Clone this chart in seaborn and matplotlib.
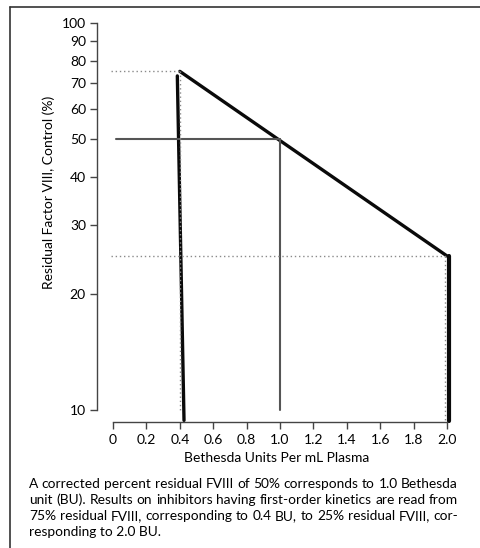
import matplotlib
matplotlib.use("Agg")
import matplotlib.pyplot as plt
from matplotlib.lines import Line2D
import seaborn as sns

# ---- data ----
x_ticks = [0, 0.2, 0.4, 0.6, 0.8, 1.0, 1.2, 1.4, 1.6, 1.8, 2.0]
x_tick_labels = ["0", "0.2", "0.4", "0.6", "0.8", "1.0", "1.2", "1.4", "1.6", "1.8", "2.0"]
y_ticks = [10, 20, 30, 40, 50, 60, 70, 80, 90, 100]
y_tick_labels = [str(v) for v in y_ticks]

diag_x = [0.4, 2.0]
diag_y = [75, 25]
steep_x = [0.385, 0.425]
steep_y = [73, 9.4]
right_x = [2.01, 2.01]
right_y = [25, 9.35]
ref50_h_x = [0.02, 1.0]
ref50_h_y = [50, 50]
ref50_v_x = [1.0, 1.0]
ref50_v_y = [50, 10]
dot75_h_x = [-0.01, 0.4]
dot75_h_y = [75, 75]
dot04_v_x = [0.4, 0.4]
dot04_v_y = [75, 10]
dot25_h_x = [-0.01, 2.0]
dot25_h_y = [25, 25]
dot20_v_x = [1.99, 1.99]
dot20_v_y = [25, 9.35]

xlabel = "Bethesda Units Per mL Plasma"
ylabel = "Residual Factor VIII, Control (%)"
caption_lines = [
    "A corrected percent residual FVIII of 50% corresponds to 1.0 Bethesda",
    "unit (BU). Results on inhibitors having first-order kinetics are read from",
    "75% residual FVIII, corresponding to 0.4 BU, to 25% residual FVIII, cor-",
    "responding to 2.0 BU.",
]

# ---- style ----
sns.set_style("white")
plt.rcParams["font.family"] = ["Lato", "DejaVu Sans"]
TXT = "#000000"

W, H = 480, 548
fig = plt.figure(figsize=(W / 100, H / 100), dpi=100)

def px(x0, y0, x1, y1):
    return [x0 / W, 1 - y1 / H, (x1 - x0) / W, (y1 - y0) / H]

ax = fig.add_axes(px(97, 23, 455.4, 422))
ax.set_yscale("log")
ax.set_xlim(-0.096, 2.05)
ax.set_ylim(10 ** (1 - 12 / 387), 100)

thick = "#0a0a0a"
gray = "#555555"
dotc = "#8a8a8a"

sns.lineplot(x=diag_x, y=diag_y, ax=ax, color=thick, lw=2.4, estimator=None, sort=False)
sns.lineplot(x=steep_x, y=steep_y, ax=ax, color=thick, lw=2.4, estimator=None, sort=False)
sns.lineplot(x=right_x, y=right_y, ax=ax, color=thick, lw=3.0, estimator=None, sort=False)
sns.lineplot(x=ref50_h_x, y=ref50_h_y, ax=ax, color=gray, lw=1.5, estimator=None, sort=False)
sns.lineplot(x=ref50_v_x, y=ref50_v_y, ax=ax, color=gray, lw=1.5, estimator=None, sort=False)
for xs, ys in [(dot75_h_x, dot75_h_y), (dot04_v_x, dot04_v_y),
               (dot25_h_x, dot25_h_y), (dot20_v_x, dot20_v_y)]:
    sns.lineplot(x=xs, y=ys, ax=ax, color=dotc, lw=1.0, linestyle=(0, (1, 2)),
                 estimator=None, sort=False)
for ln in ax.lines:
    ln.set_clip_on(False)

ax.set_yticks(y_ticks)
ax.set_yticklabels(y_tick_labels)
ax.yaxis.set_minor_locator(matplotlib.ticker.NullLocator())
ax.set_xticks(x_ticks)
ax.set_xticklabels(x_tick_labels)

for s in ["top", "right"]:
    ax.spines[s].set_visible(False)
spc = "#444444"
ax.spines["left"].set_bounds(10, 100)
ax.spines["bottom"].set_bounds(0, 2.0)
for s in ["left", "bottom"]:
    ax.spines[s].set_color(spc)
    ax.spines[s].set_linewidth(1.0)
ax.tick_params(axis="both", which="major", direction="out", length=5, width=1.0,
               color=spc, labelsize=10, labelcolor=TXT, pad=3)
ax.tick_params(axis="y", left=True)
ax.tick_params(axis="x", bottom=True, pad=4)

ax.set_xlabel(xlabel, fontsize=10, color=TXT, labelpad=4)
ax.set_ylabel(ylabel, fontsize=10, color=TXT)
ax.yaxis.set_label_coords(-0.118, 0.576)

# frame lines (left and top border)
fig.add_artist(Line2D([10 / W, 10 / W], [0, 1 - 7 / H], color="#333333", lw=1.2))
fig.add_artist(Line2D([10 / W, 1], [1 - 7 / H, 1 - 7 / H], color="#333333", lw=1.2))

# justified caption
fig.canvas.draw()
renderer = fig.canvas.get_renderer()
left_px, right_px = 29, 458
line_y = [488, 504, 520, 536]

# fit the font size so the first line spans the text block naturally
probe = fig.text(0, 0, caption_lines[0], fontsize=10)
natural = probe.get_window_extent(renderer).width
probe.remove()
cap_fs = 10 * (right_px - left_px) / natural

for i, line in enumerate(caption_lines):
    yb = 1 - line_y[i] / H
    if i == len(caption_lines) - 1:
        fig.text(left_px / W, yb, line, fontsize=cap_fs, color=TXT, va="baseline", ha="left")
        continue
    words = line.split(" ")
    texts = [fig.text(0, yb, w, fontsize=cap_fs, color=TXT, va="baseline", ha="left") for w in words]
    widths = [t.get_window_extent(renderer).width for t in texts]
    gap = (right_px - left_px - sum(widths)) / (len(words) - 1)
    xcur = left_px
    for t, wd in zip(texts, widths):
        t.set_x(xcur / W)
        xcur += wd + gap

fig.savefig("out.png", dpi=100)
